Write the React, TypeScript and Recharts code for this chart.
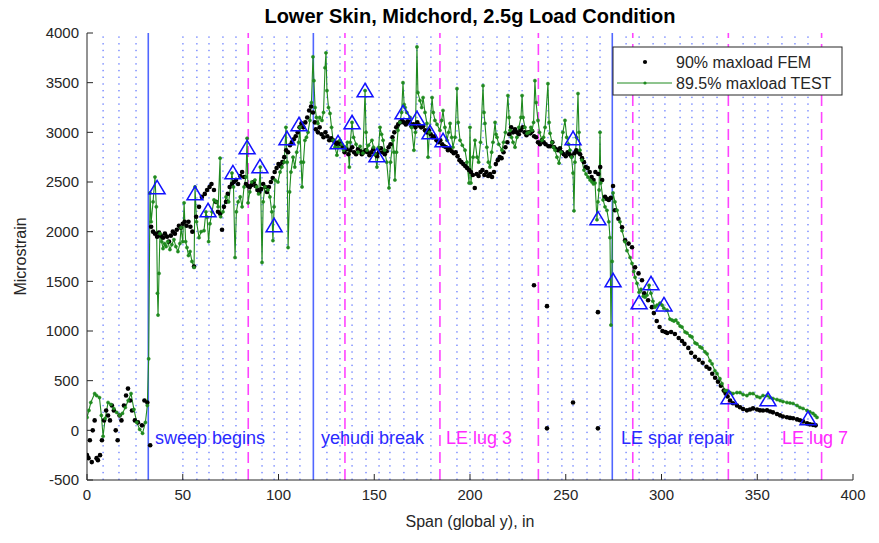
import React from 'react';
import { ComposedChart, Line, Scatter, XAxis, YAxis, ReferenceLine, ReferenceDot } from 'recharts';

const xTicks = [0, 50, 100, 150, 200, 250, 300, 350, 400];
const yTicks = [-500, 0, 500, 1000, 1500, 2000, 2500, 3000, 3500, 4000];

// stations along the span (in)
const featureStations = [32, 118.2, 274.3];
const lugStations = [84.2, 134.7, 184.3, 235.7, 285, 334.9, 383.6];
const ribStations = [
  8.4, 16.7, 25.6, 50.1, 57.4, 63.7, 71.0, 77.8, 91.4, 97.7, 104.4, 111.2, 125.3, 132.1, 138.4,
  145.7, 152.5, 158.2, 165.5, 172.3, 179.6, 193.2, 200, 206.8, 214.1, 220.4, 227.2, 240.7, 248.0,
  253.8, 261.1, 267.9, 281.5, 288.3, 295.6, 301.8, 309.7, 315.9, 321.7, 329, 342.6, 348.8, 355.6,
  362.9, 369.7, 376.5,
];

const noteTexts = ['sweep begins', 'yehudi break', 'LE lug 3', 'LE spar repair', 'LE lug 7'];
const noteSpans = [35.5, 122.2, 187.5, 278.9, 362.9];
const noteLevel = -70;

// 90% maxload FEM
const femPoints: [number, number][] = [
  [0, -250], [0.8, -280], [1.5, -100], [2.5, -320], [3, 0], [4, 100], [5, -280], [5.7, -300],
  [6.8, -250], [7.8, -100], [8.9, 100], [10, 200], [11, 150], [12, 100], [13, 250], [14, 200],
  [15, 0], [16, -100], [17, 150], [18, 100], [19.3, 250], [20.4, 350], [21.4, 420], [22.5, 300],
  [23.5, 200], [25, 100], [26.6, 80], [28.7, 50], [30, 300], [31.5, 280], [33, -150],
  [33.5, 2050], [34.5, 2000], [35.5, 1980], [36.6, 1950], [37.6, 1990], [38.6, 1960], [39.7, 1940],
  [40.7, 1980], [41.8, 1950], [42.8, 1900], [43.8, 1960], [44.8, 2000], [45.9, 1980], [46.9, 2020],
  [48, 2060], [49, 2040], [50, 2080], [51, 2100], [52, 2060], [53, 2100], [54, 2050], [55, 2000],
  [55.9, 1650], [57, 2150], [58.5, 2250], [60, 2350], [61.5, 2380], [62.7, 2420], [64, 2450],
  [65, 2480], [66.3, 2420], [67.3, 2300], [68.4, 2200], [69.5, 2180], [70.5, 2020], [71.5, 2250],
  [72.6, 2300], [73.5, 2380], [74.5, 2450], [75.7, 2480], [76.7, 2500], [77.8, 2520], [78.9, 2480],
  [80, 2560], [81, 2600], [82, 2550], [83, 2480], [84.1, 2460], [85, 2450], [86, 2470], [87, 2500],
  [88, 2460], [89, 2420], [90, 2400], [91, 2430], [92, 2480], [93, 2450], [94, 2400], [95, 2450],
  [96, 2500], [97, 2540], [98, 2600], [99, 2640], [100, 2680], [101, 2660], [102, 2700], [103, 2750],
  [104, 2820], [105, 2800], [106, 2870], [107, 2900], [108, 2930], [109, 2960], [110, 3000],
  [111, 3050], [112, 3090], [113, 3050], [114, 3100], [115, 3150], [116, 3220], [117, 3260],
  [118, 3200], [119, 3100], [119.5, 3030], [120.6, 3000], [121.5, 3050], [122.5, 2980], [123.5, 2950],
  [124.5, 3000], [125.5, 2960], [126.5, 2920], [127.5, 2940], [128.5, 2920], [129.5, 2900],
  [130.5, 2880], [131.5, 2900], [132.5, 2880], [133.5, 2850], [134.5, 2800], [135.5, 2830],
  [136.5, 2780], [137.5, 2820], [138.5, 2850], [139.5, 2800], [140.5, 2780], [141.5, 2830],
  [142.5, 2810], [143.5, 2780], [144.5, 2800], [145.5, 2820], [146.5, 2800], [147.5, 2770],
  [148.5, 2800], [149.5, 2830], [150.5, 2780], [151.5, 2760], [152.5, 2800], [153.5, 2840],
  [154.5, 2800], [155.5, 2780], [156.5, 2810], [157.5, 2850], [158.5, 2880], [159.5, 2950],
  [160.5, 3000], [161.5, 3050], [162.5, 3080], [163.5, 3100], [164.5, 3120], [165.5, 3100],
  [166.5, 3080], [167.5, 3110], [168.5, 3100], [169.5, 3060], [170.5, 3080], [171.5, 3050],
  [172.5, 3100], [173.5, 3070], [174.5, 3050], [175.5, 3060], [176.5, 3020], [177.5, 3000],
  [178.5, 3020], [179.5, 2980], [180.5, 2950], [181.5, 2960], [182.5, 2920], [183.5, 2900],
  [184.5, 2920], [185.5, 2880], [186.5, 2860], [187.5, 2850], [188.5, 2820], [189.5, 2840],
  [190.5, 2810], [191.5, 2790], [192.5, 2800], [193.5, 2760], [194.5, 2720], [195.5, 2700],
  [196.5, 2680], [197.5, 2660], [198.5, 2640], [199.5, 2620], [200.5, 2600], [201.5, 2570],
  [202.5, 2440], [203.5, 2580], [204.5, 2560], [205.5, 2600], [206.5, 2620], [207.5, 2570],
  [208.5, 2600], [209.5, 2560], [210.5, 2580], [211.5, 2550], [212.5, 2600], [213.5, 2680],
  [214.5, 2720], [215.5, 2750], [216.5, 2740], [217.5, 2800], [218.5, 2850], [219.5, 2900],
  [220.5, 2980], [221.5, 3050], [222.5, 3000], [223.5, 3030], [224.5, 3000], [225.5, 2980],
  [226.5, 3020], [227.5, 3050], [228.5, 3000], [229.5, 2970], [230.5, 3000], [231.5, 2990],
  [232.5, 3010], [233.4, 1460], [233.5, 2960], [234.5, 2950], [235.5, 2900], [236.5, 2880],
  [237.5, 2920], [238.5, 2900], [239.5, 2880], [240.2, 1250], [240.2, 20], [241, 2860], [242, 2860],
  [243, 2900], [244, 2850], [245, 2830], [246, 2820], [247, 2840], [248, 2800], [249, 2780],
  [250, 2760], [251, 2800], [252, 2780], [253, 2760], [253.8, 280], [254.5, 2790], [255.5, 2820],
  [256.5, 2800], [257.5, 2780], [258.5, 2740], [259.5, 2700], [260.5, 2650], [261.5, 2640],
  [262.5, 2600], [263.5, 2550], [264.5, 2520], [265.5, 2600], [266.8, 1190], [266.8, 20],
  [267, 2580], [268, 2650], [269, 2520], [270.5, 2350], [271.5, 2330], [272.5, 2320], [273.5, 2340],
  [274.7, 2460], [275.7, 2215], [277.5, 2130], [279.4, 2044], [281, 1913], [282.8, 1880],
  [284.6, 1843], [286.2, 1641], [288, 1580], [289.8, 1511], [291, 1380], [293, 1310], [295, 1240],
  [296, 1180], [297.5, 1100], [299, 1040], [300.5, 1000], [302, 990], [303, 980], [305, 990],
  [307, 970], [309, 930], [310.7, 900], [312, 870], [314, 830], [315.5, 780], [317.5, 740],
  [319.5, 710], [321.5, 680], [323.5, 640], [325, 620], [326.5, 570], [328, 530], [329.5, 490],
  [331, 450], [332.5, 400], [333.5, 370], [334.5, 340], [335.8, 300], [337.3, 272], [339.4, 250],
  [341, 232], [342.6, 215], [344.6, 201], [346.2, 210], [347.8, 221], [349.9, 210], [351.4, 201],
  [353, 200], [355.1, 201], [356.7, 190], [358.2, 181], [360.3, 165], [361.9, 151], [363.4, 140],
  [365.5, 131], [367.1, 125], [368.7, 121], [370.8, 110], [372.3, 101], [373.9, 90], [376, 70],
  [377.5, 60], [379.1, 55], [380.5, 50],
];

// 89.5% maxload TEST
const testPoints: [number, number][] = [
  [0, 130], [1, 200], [2, 280], [4, 370], [5, 350], [6.5, 330], [7.5, 150], [8.4, -60], [9.5, 120],
  [11, 280], [12.5, 260], [14, 220], [15.5, 180], [17, 150], [18.5, 170], [20, 230], [21.5, 300],
  [23, 370], [24.5, 210], [26, 80], [27.5, 10], [29, -30], [30.5, 80], [31.5, 250], [32.2, 720],
  [32.9, 2390], [33.5, 2100], [34.5, 2300], [35.5, 2550], [36.2, 2250], [36.8, 1380], [37.1, 1160],
  [37.6, 1580], [38.1, 1980], [39, 1900], [39.7, 1830], [40.5, 1880], [41.3, 1850], [42.2, 1900],
  [43.3, 1820], [44.3, 1870], [45.4, 1920], [46.4, 1850], [47.5, 1800], [48.5, 1880], [49.1, 2040],
  [50, 1900], [50.7, 2290], [51.5, 1900], [52.2, 1840], [53, 1760], [53.8, 1800], [54.8, 1700],
  [55.9, 1640], [56.4, 2450], [57.2, 2100], [58.5, 1940], [59.6, 2000], [61.1, 2010], [62.1, 2200],
  [62.7, 2145], [63.5, 1900], [64.2, 2080], [65.3, 2200], [66.3, 2320], [67.5, 2300], [68.5, 2250],
  [69.5, 2740], [69.8, 2150], [71, 2200], [72.6, 2350], [74, 2300], [75.7, 2590], [76.5, 2450],
  [77.3, 1740], [78, 2200], [78.9, 2300], [80, 2350], [81, 2250], [82, 2450], [83, 2550], [83.6, 2940],
  [84.1, 2290], [85, 2400], [86, 2500], [87.7, 2520], [88.5, 2450], [89.6, 2380], [90.5, 2650],
  [91.4, 1690], [92, 2300], [92.9, 2450], [94.5, 2420], [95.5, 2350], [96.5, 2200], [97.1, 1910],
  [97.7, 2250], [98.2, 2520], [99.7, 2500], [100.8, 2600], [101.8, 2650], [103, 2700], [103.9, 3050],
  [104.5, 2700], [105, 1840], [105.8, 2400], [106.5, 2600], [107.6, 2750], [108.5, 2650],
  [109.5, 2800], [110.5, 2900], [111.2, 3050], [111.8, 2700], [112.3, 2450], [113, 2700],
  [113.8, 2920], [114.6, 2950], [115.4, 3000], [116.4, 3120], [117.2, 3300], [118, 3760],
  [118.5, 3520], [119.1, 3250], [119.8, 3150], [120.6, 3090], [121.5, 3150], [122.7, 3120],
  [123.5, 3200], [124.3, 3650], [124.8, 3800], [125.3, 3420], [126.1, 3250], [126.9, 3190],
  [127.7, 3050], [128.5, 2920], [129.5, 2850], [130.5, 2770], [131.2, 2850], [132.1, 2920],
  [133, 2880], [134, 2820], [135, 2850], [136, 2900], [137, 2650], [137.5, 2900], [138.4, 3100],
  [139.2, 2950], [140.5, 2880], [141.5, 2800], [142.6, 2860], [144.1, 2790], [145.2, 3420],
  [145.7, 3000], [146.2, 2820], [147, 2870], [148.8, 2920], [149.6, 2850], [150.4, 2780],
  [151.4, 2650], [152.3, 2850], [153, 3050], [153.8, 2980], [154.6, 2920], [155.4, 2820],
  [156.5, 2700], [157.7, 2440], [158.5, 2700], [159.8, 2920], [160.3, 2800], [160.8, 2520],
  [161.6, 2800], [162.4, 3020], [163.4, 3100], [164.3, 3200], [165, 3500], [165.6, 3280],
  [166.1, 3250], [167, 3200], [168.7, 3150], [169.5, 3050], [170.7, 2820], [171.5, 3000],
  [172.3, 3860], [172.8, 3400], [173.9, 3320], [174.8, 3250], [175.5, 3350], [176.5, 3200],
  [177.5, 3090], [178.1, 2750], [178.8, 3000], [180.2, 3350], [180.8, 3200], [181.7, 3120],
  [182.8, 3080], [184.3, 3020], [185.2, 3120], [185.9, 3220], [186.9, 3050], [188, 2920],
  [188.8, 3000], [189.6, 3090], [190.4, 2950], [191.1, 2850], [192.2, 2950], [193.2, 3440],
  [193.8, 3100], [194.8, 2920], [196, 2870], [197.4, 2820], [198.4, 2700], [199.5, 2490],
  [200, 3050], [200.5, 2490], [201.6, 2750], [202.6, 2920], [203.7, 2750], [204.5, 2700],
  [205.5, 2900], [206.8, 3470], [207.3, 3200], [207.8, 3090], [208.8, 2850], [209.6, 2700],
  [210.4, 2650], [211.3, 2800], [212, 2900], [213.1, 3100], [213.6, 2980], [214.1, 2950],
  [215, 2880], [216.7, 2820], [217.5, 2900], [218.5, 3000], [219.8, 3370], [220.4, 3150],
  [220.9, 3020], [221.7, 2950], [222.5, 2900], [223.5, 2850], [224.5, 2950], [225.5, 3050],
  [226.6, 3150], [227.2, 3370], [227.7, 3150], [228.7, 3050], [229.8, 2990], [230.8, 3000],
  [231.8, 3050], [232.4, 3020], [233.2, 3100], [233.9, 3520], [234.5, 3300], [235.5, 3120],
  [236.3, 3000], [237.6, 2920], [238.4, 2950], [239.2, 3050], [240.7, 3490], [241.3, 3100],
  [241.8, 2990], [242.8, 2900], [243.6, 2850], [244.4, 2820], [245.4, 2750], [246.5, 2690],
  [247.5, 2800], [248.5, 3000], [249.6, 3120], [250.5, 2950], [251.5, 2880], [252.2, 2820],
  [253, 2750], [253.8, 2590], [254.3, 2210], [254.8, 2700], [255.6, 2950], [256.4, 3390],
  [256.9, 3000], [257.4, 2820], [258.4, 2720], [259.5, 2620], [260.6, 2580], [261.6, 2550],
  [262.7, 2520], [263.7, 2500], [264.5, 2480], [265.3, 2490], [266.3, 2120], [266.8, 2300],
  [267.4, 2420], [267.9, 3000], [268.3, 2490], [269.5, 2320], [270.5, 2250], [271.5, 2215],
  [272.5, 2100], [273.1, 1940], [273.6, 1060], [274.2, 1700], [274.7, 2390], [275.7, 2300],
  [276.8, 2215], [278.3, 2100], [279.4, 2010], [280.9, 1900], [282, 1810], [283.6, 1740],
  [284.6, 1680], [285.5, 1600], [286.2, 1540], [287.2, 1480], [288.3, 1390], [289.3, 1420],
  [290.5, 1350], [291.4, 1340], [292.4, 1360], [293.5, 1460], [294.5, 1380], [295.5, 1300],
  [296.6, 1240], [297.7, 1260], [299.2, 1280], [300.3, 1260], [301.2, 1230], [302.9, 1210],
  [304.4, 1120], [305.5, 1110], [306.5, 1100], [307.5, 1110], [308.6, 1080], [309.7, 1050],
  [310.7, 1040], [312.3, 990], [313.3, 980], [314.9, 950], [315.9, 940], [317.5, 880], [318.5, 870],
  [320.1, 840], [321.1, 830], [322.7, 790], [323.8, 770], [325.3, 700], [326.4, 670], [327.9, 600],
  [329, 570], [330.5, 520], [331.6, 470], [333.2, 400], [334.2, 400], [335.8, 380], [337.3, 370],
  [339.4, 380], [341, 380], [342.6, 360], [344.6, 350], [346.2, 370], [347.8, 370], [349.9, 340],
  [351.4, 330], [353, 350], [355.1, 350], [356.7, 330], [358.2, 320], [360.3, 310], [361.9, 300],
  [363.4, 290], [365.5, 280], [367.1, 275], [368.7, 270], [370.8, 250], [372.3, 230], [373.9, 220],
  [376, 200], [377.5, 185], [379.1, 170], [380.2, 150], [381.2, 130],
];

// gauge locations (triangles)
const gaugePoints: [number, number][] = [
  [36.6, 2446], [56.4, 2386], [63.2, 2215], [76.2, 2597], [83.6, 2849], [90.3, 2658], [97.7, 2064],
  [104.4, 2940], [110.7, 3081], [131.1, 2899], [138.4, 3101], [145.2, 3423], [151.4, 2769],
  [165.0, 3201], [172.3, 3141], [179.1, 3000], [185.9, 2920], [253.8, 2940], [266.8, 2134],
  [274.7, 1510], [288.3, 1289], [294.5, 1480], [301.3, 1268], [335.2, 332], [355.6, 312], [376.5, 121],
];

const femData = femPoints.map(([x, y]) => ({ x, y }));
const testData = testPoints.map(([x, y]) => ({ x, y }));
const gaugeData = gaugePoints.map(([x, y]) => ({ x, y }));

const FONT = '"Liberation Sans", Arial, Helvetica, sans-serif';
const AXIS = '#262626';
const GREEN = '#1f8a1f';
const noteColors = ['#2a2aff', '#2a2aff', '#ff2aff', '#2a2aff', '#ff2aff'];

const FemDot = (p: any) => <circle cx={p.cx} cy={p.cy} r={2.3} fill="#000" />;
const GaugeMark = (p: any) => (
  <polygon
    points={`${p.cx},${p.cy - 7} ${p.cx - 8},${p.cy + 6.5} ${p.cx + 8},${p.cy + 6.5}`}
    fill="none"
    stroke="#1212ff"
    strokeWidth={1.5}
  />
);

const tick = { fontSize: 15, fill: AXIS, fontFamily: FONT };

export default function App() {
  return (
    <div style={{ position: 'absolute', left: 0, top: 0, width: 879, height: 543, background: '#fff', fontFamily: FONT }}>
      <ComposedChart width={879} height={543} margin={{ top: 33, right: 26, bottom: 0, left: 0 }}>
        <XAxis
          dataKey="x"
          type="number"
          domain={[0, 400]}
          ticks={xTicks}
          allowDataOverflow
          stroke={AXIS}
          tick={tick}
          tickSize={-6}
          tickMargin={15}
          height={63}
          label={{ value: 'Span (global y), in', position: 'insideBottom', offset: 16, fill: AXIS, fontSize: 16, fontFamily: FONT }}
        />
        <XAxis
          xAxisId="top"
          orientation="top"
          type="number"
          domain={[0, 400]}
          ticks={xTicks}
          stroke={AXIS}
          tick={false}
          tickSize={-6}
          height={0}
        />
        <YAxis
          type="number"
          domain={[-500, 4000]}
          ticks={yTicks}
          allowDataOverflow
          stroke={AXIS}
          tick={tick}
          tickSize={-6}
          tickMargin={14}
          width={87}
          label={{ value: 'Microstrain', angle: -90, position: 'insideLeft', offset: 20, fill: AXIS, fontSize: 16, fontFamily: FONT, style: { textAnchor: 'middle' } }}
        />
        <YAxis
          yAxisId="right"
          orientation="right"
          type="number"
          domain={[-500, 4000]}
          ticks={yTicks}
          stroke={AXIS}
          tick={false}
          tickSize={-6}
          width={0}
        />
        {ribStations.map((s) => (
          <ReferenceLine key={'r' + s} x={s} stroke="#3a55ff" strokeWidth={1} strokeDasharray="1.4 5.3" />
        ))}
        {lugStations.map((s) => (
          <ReferenceLine key={'l' + s} x={s} stroke="#ff44ff" strokeWidth={1.6} strokeDasharray="11 6" />
        ))}
        {featureStations.map((s) => (
          <ReferenceLine key={'f' + s} x={s} stroke="#5066ff" strokeWidth={1.6} />
        ))}
        {noteTexts.map((t, i) => (
          <ReferenceDot
            key={t}
            x={noteSpans[i]}
            y={noteLevel}
            r={0}
            fill="none"
            stroke="none"
            label={{ value: t, position: 'right', offset: 0, fill: noteColors[i], fontSize: 18, fontFamily: FONT }}
          />
        ))}
        <Scatter data={femData} dataKey="y" shape={FemDot} isAnimationActive={false} />
        <Line
          data={testData}
          dataKey="y"
          type="linear"
          stroke={GREEN}
          strokeWidth={1.1}
          dot={{ r: 1.6, fill: GREEN, stroke: GREEN, strokeWidth: 0.5 }}
          isAnimationActive={false}
        />
        <Scatter data={gaugeData} dataKey="y" shape={GaugeMark} isAnimationActive={false} />
      </ComposedChart>
      <svg width={879} height={543} style={{ position: 'absolute', left: 0, top: 0, pointerEvents: 'none' }}>
        <text x={470} y={23} textAnchor="middle" fontSize={20} fontWeight="bold" fill="#000" fontFamily={FONT}>
          Lower Skin, Midchord, 2.5g Load Condition
        </text>
        <rect x={613} y={47} width={229} height={48} fill="#fff" stroke={AXIS} strokeWidth={1} />
        <circle cx={645} cy={62} r={2.1} fill="#000" />
        <line x1={617} y1={83} x2={672} y2={83} stroke={GREEN} strokeWidth={1} />
        <circle cx={645} cy={83} r={1.6} fill={GREEN} />
        <text x={676} y={68} fontSize={16} fill={AXIS} fontFamily={FONT}>90% maxload FEM</text>
        <text x={676} y={89} fontSize={16} fill={AXIS} fontFamily={FONT}>89.5% maxload TEST</text>
      </svg>
    </div>
  );
}
